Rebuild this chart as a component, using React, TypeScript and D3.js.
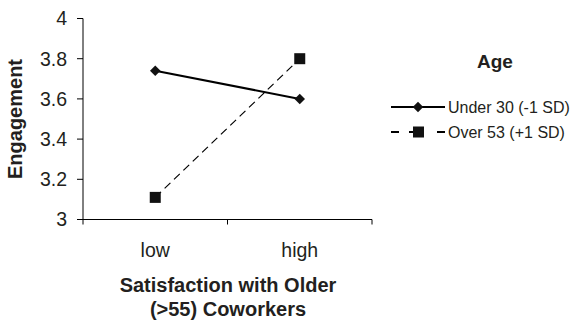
import { useEffect, useRef } from 'react';
import * as d3 from 'd3';

const categories = ['low', 'high'];
const yTicks = [3, 3.2, 3.4, 3.6, 3.8, 4];
const seriesNames = ['Under 30 (-1 SD)', 'Over 53 (+1 SD)'];
const under30 = [3.74, 3.6];
const over53 = [3.11, 3.8];

const W = 576;
const H = 324;
const ink = '#231f20';

const App = () => {
	const svgRef = useRef<SVGSVGElement>(null);

	useEffect(() => {
		const svg = d3.select(svgRef.current);
		svg.selectAll('*').remove();
		svg.style('font-family', '"Liberation Sans", Arial, sans-serif');

		const x = d3.scaleBand().domain(categories).range([83, 372]);
		const y = d3.scaleLinear().domain([3, 4]).range([219.5, 18.5]);
		const cx = (c: string) => (x(c) as number) + x.bandwidth() / 2;

		// y axis
		const g = svg.append('g');
		g.append('line').attr('x1', 83).attr('x2', 83).attr('y1', y(4)).attr('y2', y(3)).attr('stroke', '#000');
		yTicks.forEach(t => {
			g.append('line').attr('x1', 77).attr('x2', 83).attr('y1', y(t)).attr('y2', y(t)).attr('stroke', '#000');
			g.append('text')
				.attr('x', 67)
				.attr('y', y(t))
				.attr('dy', '0.35em')
				.attr('text-anchor', 'end')
				.attr('font-size', 19.5)
				.attr('fill', ink)
				.text(d3.format('~g')(t));
		});

		// x axis
		g.append('line').attr('x1', 83).attr('x2', 372).attr('y1', y(3)).attr('y2', y(3)).attr('stroke', '#000');
		const bounds = [...categories.map(c => x(c) as number), 372];
		bounds.forEach(b => {
			g.append('line').attr('x1', b).attr('x2', b).attr('y1', y(3)).attr('y2', y(3) + 5).attr('stroke', '#000');
		});
		categories.forEach(c => {
			g.append('text')
				.attr('x', cx(c))
				.attr('y', 257)
				.attr('text-anchor', 'middle')
				.attr('font-size', 19.5)
				.attr('fill', ink)
				.text(c);
		});

		// titles
		svg.append('text')
			.attr('text-anchor', 'middle')
			.attr('font-weight', 'bold')
			.attr('font-size', 20)
			.attr('fill', ink)
			.attr('transform', `translate(15,${y(3.5)}) rotate(-90)`)
			.attr('dy', '0.35em')
			.text('Engagement');
		const xt = svg.append('text')
			.attr('text-anchor', 'middle')
			.attr('font-weight', 'bold')
			.attr('font-size', 20)
			.attr('fill', ink);
		xt.append('tspan').attr('x', 228).attr('y', 292).text('Satisfaction with Older');
		xt.append('tspan').attr('x', 228).attr('y', 316).text('(>55) Coworkers');

		const line = d3.line<number>().x((_, i) => cx(categories[i])).y(d => y(d));
		const diamond = d3.symbol().type(d3.symbolDiamond2).size(70);

		// Under 30
		svg.append('path').attr('d', line(under30)).attr('fill', 'none').attr('stroke', '#000').attr('stroke-width', 2);
		under30.forEach((v, i) => {
			svg.append('path')
				.attr('d', diamond())
				.attr('transform', `translate(${cx(categories[i])},${y(v)})`)
				.attr('fill', '#111');
		});

		// Over 53
		svg.append('path')
			.attr('d', line(over53))
			.attr('fill', 'none')
			.attr('stroke', '#000')
			.attr('stroke-width', 1.2)
			.attr('stroke-dasharray', '8,5');
		over53.forEach((v, i) => {
			svg.append('rect')
				.attr('x', cx(categories[i]) - 5.5)
				.attr('y', y(v) - 5.5)
				.attr('width', 11)
				.attr('height', 11)
				.attr('fill', '#111');
		});

		// legend
		const lg = svg.append('g');
		lg.append('text')
			.attr('x', 495)
			.attr('y', 61)
			.attr('dy', '0.35em')
			.attr('text-anchor', 'middle')
			.attr('font-weight', 'bold')
			.attr('font-size', 19)
			.attr('fill', ink)
			.text('Age');
		const rows = [107, 132];
		lg.append('line').attr('x1', 391).attr('x2', 445).attr('y1', rows[0]).attr('y2', rows[0]).attr('stroke', '#000').attr('stroke-width', 2);
		lg.append('path').attr('d', diamond()).attr('transform', `translate(418,${rows[0]})`).attr('fill', '#111');
		lg.append('line').attr('x1', 391).attr('x2', 399).attr('y1', rows[1]).attr('y2', rows[1]).attr('stroke', '#000').attr('stroke-width', 2);
		lg.append('line').attr('x1', 437).attr('x2', 445).attr('y1', rows[1]).attr('y2', rows[1]).attr('stroke', '#000').attr('stroke-width', 2);
		lg.append('line').attr('x1', 409).attr('x2', 413).attr('y1', rows[1]).attr('y2', rows[1]).attr('stroke', '#000').attr('stroke-width', 2);
		lg.append('rect').attr('x', 413).attr('y', rows[1] - 5.5).attr('width', 11).attr('height', 11).attr('fill', '#111');
		seriesNames.forEach((n, i) => {
			lg.append('text')
				.attr('x', 448)
				.attr('y', rows[i])
				.attr('dy', '0.35em')
				.attr('font-size', 16)
				.attr('fill', ink)
				.text(n);
		});
	}, []);

	return <svg ref={svgRef} width={W} height={H} style={{ position: 'absolute', left: 0, top: 0, background: '#fff' }}></svg>;
};

export default App;
